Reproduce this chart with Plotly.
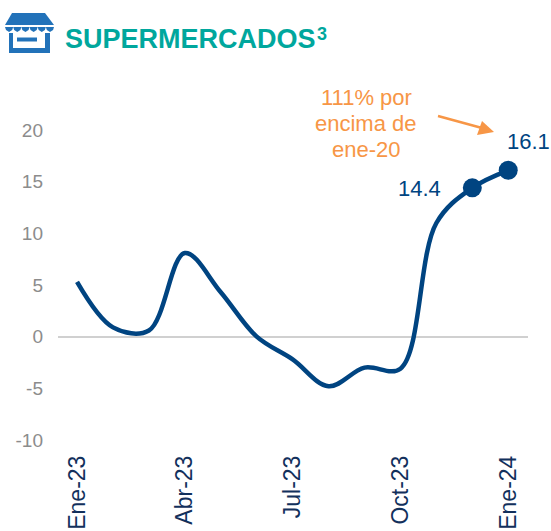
import plotly.graph_objects as go

W, H = 551, 531
months = ["Ene-23","Feb-23","Mar-23","Abr-23","May-23","Jun-23","Jul-23","Ago-23","Sep-23","Oct-23","Nov-23","Dic-23","Ene-24"]
values = [5.3, 0.9, 0.6, 8.1, 4.3, 0.0, -2.2, -4.8, -3.0, -3.1, 11.0, 14.4, 16.1]
tick_labels = ["Ene-23","Abr-23","Jul-23","Oct-23","Ene-24"]
tick_positions = ["Ene-23","Abr-23","Jul-23","Oct-23","Ene-24"]
y_ticks = [-10, -5, 0, 5, 10, 15, 20]
y_labels = ["-10", "-5", "0", "5", "10", "15", "20"]
marked = ["Dic-23","Ene-24"]
marked_values = [14.4, 16.1]
note_lines = ["111% por", "encima de", "ene-20"]
NAVY = "#004481"
ORANGE = "#F79646"
TEAL = "#00A79D"
BLUE = "#2272B9"
FONT = "Liberation Sans"

L, R, T, B = 58, 528, 130, 440

def px(x): return (x - L) / (R - L)
def py(y): return (B - y) / (B - T)

fig = go.Figure()
fig.add_trace(go.Scatter(x=months, y=values, mode="lines",
    line=dict(color=NAVY, width=4.5, shape="spline", smoothing=1), hoverinfo="skip", showlegend=False))
fig.add_trace(go.Scatter(x=marked, y=marked_values, mode="markers",
    marker=dict(color=NAVY, size=19), hoverinfo="skip", showlegend=False))

shapes = []
def rect(x0, y0, x1, y1, color):
    shapes.append(dict(type="rect", xref="paper", yref="paper", x0=px(x0), x1=px(x1), y0=py(y0), y1=py(y1),
                       fillcolor=color, line_width=0, layer="above"))
def path(pts, color):
    d = "M " + " L ".join(f"{px(a):.5f},{py(b):.5f}" for a, b in pts) + " Z"
    shapes.append(dict(type="path", xref="paper", yref="paper", path=d, fillcolor=color, line_width=0, layer="above"))

# store icon
path([(12,13),(45,13),(54,25),(5,25)], BLUE)
for i in range(6):
    x0 = 5 + i * 8.17
    path([(x0,27),(x0+8.17,27),(x0+7.2,30),(x0+4.1,32),(x0+1,30)], BLUE)
rect(9, 33, 13, 53, BLUE)
rect(45, 33, 50, 53, BLUE)
rect(9, 48, 50, 53, BLUE)
rect(17, 37.5, 37, 41.5, BLUE)

# orange arrow
shapes.append(dict(type="line", xref="paper", yref="paper", x0=px(438), y0=py(116), x1=px(482), y1=py(128),
                   line=dict(color=ORANGE, width=2.5), layer="above"))
path([(494,132),(477,135),(482,121)], ORANGE)

annotations = [
    dict(text="<b>SUPERMERCADOS</b>", xref="paper", yref="paper", x=px(63), y=py(39), xanchor="left", yanchor="middle",
         showarrow=False, font=dict(family=FONT, size=27, color=TEAL)),
    dict(text="<b>3</b>", xref="paper", yref="paper", x=px(315), y=py(34), xanchor="left", yanchor="middle",
         showarrow=False, font=dict(family=FONT, size=18, color=TEAL)),
    dict(text="14.4", xref="paper", yref="paper", x=px(419), y=py(188), xanchor="center", yanchor="middle",
         showarrow=False, font=dict(family=FONT, size=22, color=NAVY)),
    dict(text="16.1", xref="paper", yref="paper", x=px(528), y=py(141), xanchor="center", yanchor="middle",
         showarrow=False, font=dict(family=FONT, size=22, color=NAVY)),
]
for line, yy in zip(note_lines, [97, 123, 149]):
    annotations.append(dict(text=line, xref="paper", yref="paper", x=px(366), y=py(yy), xanchor="center", yanchor="middle",
         showarrow=False, font=dict(family=FONT, size=22, color=ORANGE)))

fig.update_layout(
    width=W, height=H, autosize=False,
    margin=dict(l=L, r=W-R, t=T, b=H-B),
    paper_bgcolor="white", plot_bgcolor="white",
    shapes=shapes, annotations=annotations, showlegend=False,
    xaxis=dict(type="category", categoryorder="array", categoryarray=months, range=[-0.53, 12.55],
        tickmode="array", tickvals=tick_positions, ticktext=tick_labels, tickangle=-90, automargin=False,
        tickfont=dict(family=FONT, size=23, color="#12305C"), showgrid=False, showline=False,
        ticks="", zeroline=False, ticklabelstandoff=10),
    yaxis=dict(range=[-10, 20], tickmode="array", tickvals=y_ticks, ticktext=y_labels, automargin=False,
        tickfont=dict(family=FONT, size=19, color="#8C8C8C"),
        showgrid=False, showline=False, ticks="", zeroline=True, zerolinecolor="#D0D0D0", zerolinewidth=2, ticklabelstandoff=14),
)
fig.write_html("out.html", config={"displayModeBar": False},
               post_script="document.body.style.margin='0';document.body.style.overflow='hidden';")
